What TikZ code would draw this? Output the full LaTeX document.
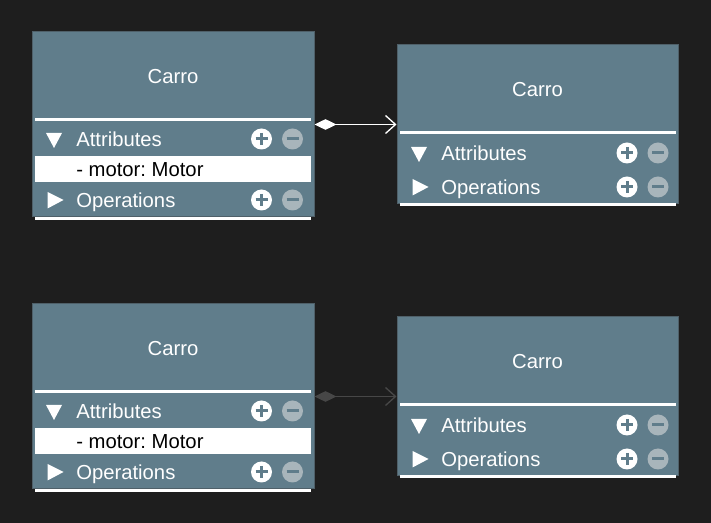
\documentclass[tikz,border=0pt]{standalone}
\usepackage{fontspec}
\setmainfont{Liberation Sans}
\usetikzlibrary{arrows.meta}
\frenchspacing
\definecolor{bg}{HTML}{1E1E1E}
\definecolor{panel}{HTML}{607D8B}
\definecolor{panelborder}{HTML}{4F6069}
\definecolor{minusc}{HTML}{A8B5BB}
\definecolor{dimline}{HTML}{474747}
\tikzset{
  panelbox/.style={draw=panelborder, fill=panel, line width=0.75pt, inner sep=0pt},
  titletext/.style={text=white, anchor=base, inner sep=0pt, font=\fontsize{15.2}{18}\selectfont},
  rowtext/.style={text=white, anchor=base west, inner sep=0pt, font=\fontsize{15.2}{18}\selectfont},
  attrtext/.style={text=black, anchor=base west, inner sep=0pt, font=\fontsize{15.2}{18}\selectfont},
  sepline/.style={draw=white, line width=2.25pt},
  crossbar/.style={draw=panel, line width=2.25pt},
  composition/.style={line width=1pt, {Diamond[length=16.5pt,width=8pt]}-{Straight Barb[length=7.5pt,width=13.5pt]}},
}
\newcommand\plusicon[2]{%
  \fill[white] (#1,#2) circle[radius=7.875pt];
  \draw[crossbar] (#1-6,#2) -- (#1+6,#2) (#1,#2-6) -- (#1,#2+6);
}
\newcommand\minusicon[2]{%
  \fill[minusc] (#1,#2) circle[radius=7.875pt];
  \draw[crossbar] (#1-6,#2) -- (#1+6,#2);
}
% class with one attribute: #1 name, #2 left, #3 top
\newcommand\classwithattr[3]{%
\begin{scope}[shift={(#2,#3)}]
  \node[panelbox, minimum width=211.5pt, minimum height=138.75pt] (#1) at (141,92.5) {};
  \node[titletext] (#1-title) at (141,51.2) {Carro};
  \draw[sepline] (3,88) -- (279,88);
  \fill[white] (3,124.5) rectangle (279,150.5);
  \fill[white] (14,101) -- (30,101) -- (22,116) -- cycle;
  \node[rowtext] (#1-attrs) at (44,114.2) {Attributes};
  \plusicon{229.5}{107}
  \minusicon{260.5}{107}
  \node[attrtext] (#1-motor) at (44,144.7) {- motor: Motor};
  \fill[white] (15.5,160) -- (31.5,168) -- (15.5,176.5) -- cycle;
  \node[rowtext] (#1-ops) at (44,175.2) {Operations};
  \plusicon{229.5}{168}
  \minusicon{260.5}{168}
  \draw[sepline] (3,186.5) -- (279,186.5);
\end{scope}}
% empty class: #1 name, #2 left, #3 top
\newcommand\classempty[3]{%
\begin{scope}[shift={(#2,#3)}]
  \node[panelbox, minimum width=210.75pt, minimum height=119.25pt] (#1) at (140.5,79.5) {};
  \node[titletext] (#1-title) at (140.5,51.2) {Carro};
  \draw[sepline] (3,88) -- (278.5,88);
  \fill[white] (14,102) -- (30,102) -- (22,117) -- cycle;
  \node[rowtext] (#1-attrs) at (44,115.2) {Attributes};
  \plusicon{230}{108}
  \minusicon{261}{108}
  \fill[white] (15.5,134) -- (31.5,142) -- (15.5,150.5) -- cycle;
  \node[rowtext] (#1-ops) at (44,149.2) {Operations};
  \plusicon{230}{142}
  \minusicon{261}{142}
  \draw[sepline] (3,160) -- (278.5,160);
\end{scope}}
\begin{document}
\begin{tikzpicture}[x=0.75pt, y=-0.75pt]
  \fill[bg] (0,0) rectangle (711,523);
  \useasboundingbox (0,0) rectangle (711,523);
  \classwithattr{a}{32}{32}
  \classempty{b}{397}{45}
  \classwithattr{c}{32}{304}
  \classempty{d}{397}{317}
  \draw[composition, draw=white, fill=white] (a) -- (b);
  \draw[composition, draw=dimline, fill=dimline] (c) -- (d);
\end{tikzpicture}
\end{document}
